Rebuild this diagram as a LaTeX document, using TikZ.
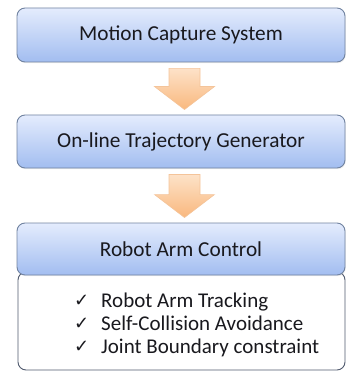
\documentclass[tikz,border=0pt]{standalone}
\usepackage{fontspec}
\setmainfont{Carlito}
\newfontfamily\checkfont{DejaVu Sans}
\usetikzlibrary{positioning,calc,shadows}
\definecolor{boxtop}{RGB}{228,236,253}
\definecolor{boxbot}{RGB}{162,189,240}
\definecolor{boxline}{RGB}{112,130,160}
\definecolor{listline}{RGB}{80,90,110}
\definecolor{arrtop}{RGB}{253,226,200}
\definecolor{arrbot}{RGB}{249,184,126}
\definecolor{arrline}{RGB}{244,196,154}
\definecolor{ink}{RGB}{25,25,30}
\tikzset{
  stage/.style={rectangle, draw=boxline, line width=0.9pt, rounded corners=8pt,
    top color=boxtop, bottom color=boxbot, minimum width=328pt, text=ink,
    font=\fontsize{21.3}{23}\selectfont,
    drop shadow={opacity=0.12, shadow xshift=0.8pt, shadow yshift=-1.2pt}},
  listbox/.style={rectangle, draw=listline, line width=0.9pt, rounded corners=8pt,
    fill=white, minimum width=327pt, minimum height=98pt},
  item/.style={anchor=base west, inner sep=0pt, text=ink, font=\fontsize{21}{23}\selectfont},
  downarrow/.style={draw=arrline, line width=0.6pt, top color=arrtop, bottom color=arrbot}
}
\newcommand{\tick}{\makebox[27pt][l]{\raisebox{0.5pt}{\checkfont\fontsize{18}{18}\selectfont ✓}}}

\begin{document}
\begin{tikzpicture}[x=1pt,y=1pt]
\useasboundingbox (0,0) rectangle (347,-374);

% the three stages
\node[stage, minimum height=54pt] (mocap) at (181,-35) {Motion Capture System};
\node[stage, minimum height=53pt] (traj) at (181,-141.5) {On-line Trajectory Generator};

% list sits under the control header
\node[listbox] (tasks) at (181.5,-321) {};
\node[stage, minimum height=52pt] (ctrl) at (181,-249) {Robot Arm Control};

\foreach \t [count=\i] in {Robot Arm Tracking, Self-Collision Avoidance, Joint Boundary constraint}
  \node[item] (task\i) at (74,{-307-23*(\i-1)}) {\tick\t};

% block arrows between the stages
\foreach \a/\b in {mocap/traj, traj/ctrl} {
  \coordinate (top) at ([xshift=3.5pt,yshift=-6pt]\a.south);
  \coordinate (tip) at ([xshift=3.5pt,yshift=5pt]\b.north);
  \draw[downarrow] ([xshift=-15.5pt]top) -- ([xshift=15.5pt]top)
    -- ([xshift=15.5pt,yshift=23pt]tip) -- ([xshift=30pt,yshift=23pt]tip)
    -- (tip) -- ([xshift=-30pt,yshift=23pt]tip)
    -- ([xshift=-15.5pt,yshift=23pt]tip) -- cycle;
}
\end{tikzpicture}
\end{document}
